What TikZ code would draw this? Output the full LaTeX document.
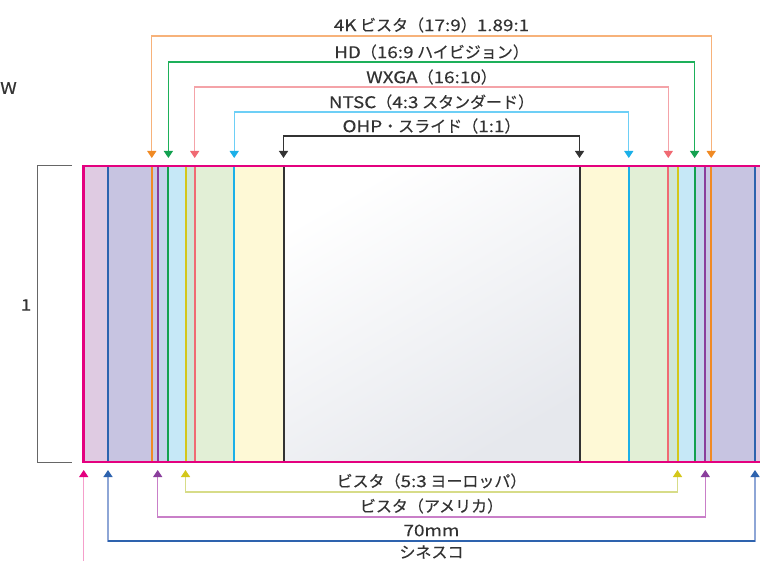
\documentclass[tikz,border=0pt]{standalone}
\usepackage{fontspec}
\setmainfont{Noto Sans CJK JP}[FakeBold=0.3]
\newfontfamily\latn{Noto Sans CJK JP}[FakeStretch=1.18, FakeBold=0.3]
\newcommand{\ltx}[1]{{\latn #1}}
\usetikzlibrary{arrows.meta,shadings}
\definecolor{txt}{HTML}{333333}
\definecolor{mag}{HTML}{E4007F}
\definecolor{magL}{HTML}{F59FCB}
\definecolor{bandA}{HTML}{DFCBE2}
\definecolor{bandB}{HTML}{C7C4E1}
\definecolor{bandC}{HTML}{C8C7E4}
\definecolor{bandD}{HTML}{C4D3EC}
\definecolor{bandE}{HTML}{C6E8F7}
\definecolor{bandF}{HTML}{CFE6D6}
\definecolor{bandG}{HTML}{E2EFD6}
\definecolor{bandH}{HTML}{FEF9D6}
\definecolor{cenB}{HTML}{E6E8ED}
\definecolor{blueA}{HTML}{2E63AE}
\definecolor{blueL}{HTML}{8EA6D6}
\definecolor{orA}{HTML}{F08A24}
\definecolor{orL}{HTML}{F7B27A}
\definecolor{puA}{HTML}{8A3E9C}
\definecolor{puL}{HTML}{C97FC8}
\definecolor{grA}{HTML}{13A150}
\definecolor{grL}{HTML}{1DB05A}
\definecolor{yeA}{HTML}{D4C71A}
\definecolor{yeL}{HTML}{D7DC88}
\definecolor{rdA}{HTML}{F06A73}
\definecolor{rdL}{HTML}{F4A3A8}
\definecolor{cyA}{HTML}{1BB0E8}
\definecolor{cyL}{HTML}{6DCFF6}
\definecolor{bkA}{HTML}{333333}
\begin{document}
\begin{tikzpicture}[x=1pt,y=-1pt,
  lab/.style={text=txt, font=\fontsize{16}{16}\selectfont, inner sep=0pt},
  frameln/.style={line width=2pt},
  bk/.style={line width=1.3pt, arrows={Triangle[width=9pt,length=7pt,color=#1]-Triangle[width=9pt,length=7pt,color=#1]}},
  bkone/.style={line width=1.3pt, arrows={Triangle[width=9pt,length=7pt,color=#1]-}}]
\useasboundingbox (0,0) rectangle (760,561);
% bands
\fill[bandA] (83.7,166) rectangle (779.3,462);
\fill[bandB] (108,166) rectangle (755,462);
\fill[bandC] (151.8,166) rectangle (711.2,462);
\fill[bandD] (157.7,166) rectangle (705.3,462);
\fill[bandE] (168.4,166) rectangle (694.6,462);
\fill[bandF] (185.5,166) rectangle (677.5,462);
\fill[bandG] (194.7,166) rectangle (668.3,462);
\fill[bandH] (234.2,166) rectangle (628.8,462);
\shade[top color=white, bottom color=cenB, shading angle=30]
  (283.5,166) rectangle (579.5,462);
% vertical lines
\foreach \xa/\xb/\c in {108/755/blueA, 151.8/711.2/orA, 157.7/705.3/puA, 168.4/694.6/grA,
  185.5/677.5/yeA, 194.7/668.3/rdA, 234.2/628.8/cyA, 283.5/579.5/bkA}{
  \draw[frameln, \c] (\xa,166) -- (\xa,462);
  \draw[frameln, \c] (\xb,166) -- (\xb,462);
}
\draw[mag, line width=2.7pt] (83.7,166) rectangle (779.3,462);
% height bracket
\draw[black!60, line width=1pt] (72,166) -- (37.5,166) -- (37.5,462) -- (72,462);
\node[lab] (one) at (26,305) {\ltx{1}};
\node[lab, anchor=west] (wlab) at (0,88) {\ltx{W}};
% top labels
\node[lab] (t4k) at (431.5,25) {\ltx{4K} ビスタ（\ltx{17:9}）\ltx{1.89:1}};
\node[lab] (thd) at (431.5,52) {\ltx{HD}（\ltx{16:9} ハイビジョン）};
\node[lab] (twx) at (431.5,77) {\ltx{WXGA}（\ltx{16:10}）};
\node[lab] (tnt) at (431.5,102) {\ltx{NTSC}（\ltx{4:3} スタンダード）};
\node[lab] (toh) at (431.5,126) {\ltx{OHP}・スライド（\ltx{1:1}）};
\coordinate (k4L) at (151.8,158); \coordinate (k4R) at (711.2,158);
\coordinate (hdL) at (168.4,158); \coordinate (hdR) at (694.6,158);
\coordinate (wxL) at (194.7,158); \coordinate (wxR) at (668.3,158);
\coordinate (ntL) at (234.2,158); \coordinate (ntR) at (628.8,158);
\coordinate (ohL) at (283.5,158); \coordinate (ohR) at (579.5,158);
\draw[bk=orA, orL] (k4L) -- ++(0,-122) -| (k4R);
\draw[bk=grA, grL] (hdL) -- ++(0,-96) -| (hdR);
\draw[bk=rdA, rdL] (wxL) -- ++(0,-71) -| (wxR);
\draw[bk=cyA, cyL] (ntL) -- ++(0,-46) -| (ntR);
\draw[bk=bkA, bkA] (ohL) -- ++(0,-22) -| (ohR);
% bottom labels
\node[lab] (b53) at (431.5,481) {ビスタ（\ltx{5:3} ヨーロッパ）};
\node[lab] (bam) at (431.5,506) {ビスタ（アメリカ）};
\node[lab] (b70) at (431.5,530.5) {\ltx{70mm}};
\node[lab] (bcs) at (431.5,552) {シネスコ};
\coordinate (euL) at (185.5,470); \coordinate (euR) at (677.5,470);
\coordinate (amL) at (157.7,470); \coordinate (amR) at (705.3,470);
\coordinate (smL) at (108,470); \coordinate (smR) at (755,470);
\coordinate (csL) at (83.7,470); \coordinate (csEnd) at (83.7,566);
\draw[bk=yeA, yeL] (euL) -- ++(0,22) -| (euR);
\draw[bk=puA, puL] (amL) -- ++(0,47) -| (amR);
\draw[bk=blueA, blueL] (smL) -- ++(0,71) -| (smR);
\draw[blueA, line width=1.3pt] (108,541) -- (755,541);
\draw[bkone=mag, magL] (csL) -- (csEnd);
\end{tikzpicture}
\end{document}
